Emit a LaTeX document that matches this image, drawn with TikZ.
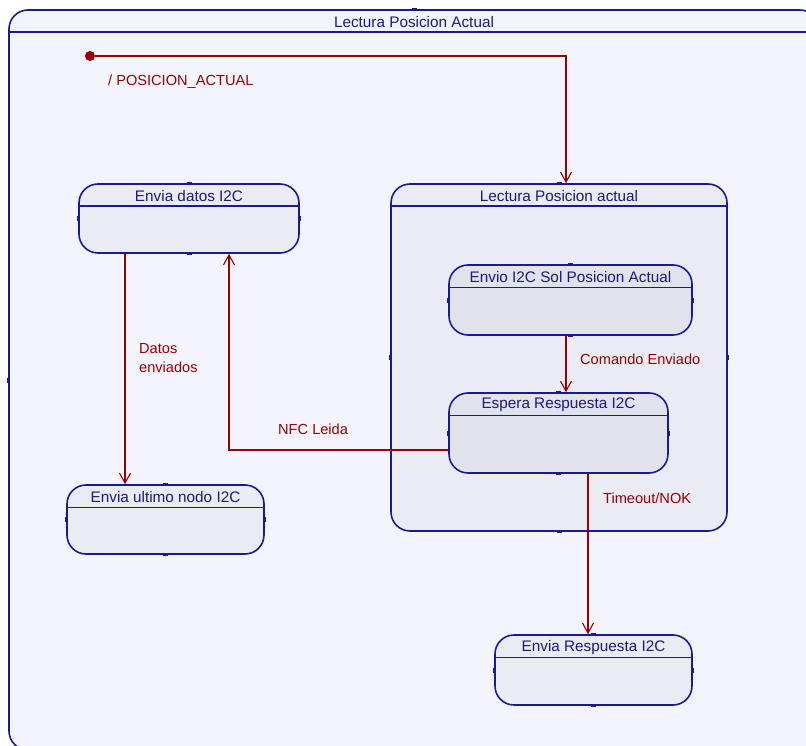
\documentclass[tikz,border=0pt]{standalone}
\usepackage{fontspec}
\setmainfont{Liberation Sans}
\usetikzlibrary{arrows.meta}

\definecolor{umlblue}{HTML}{1A1A96}
\definecolor{umltext}{HTML}{1A1A80}
\definecolor{umlred}{HTML}{990000}
\definecolor{bgfill}{HTML}{F4F4FD}
\definecolor{statefill}{HTML}{EBEBF4}
\definecolor{innerfill}{HTML}{E2E2EC}

\tikzset{
  statebox/.style={draw=umlblue, line width=1.6pt, rounded corners=19pt,
    inner sep=0pt},
  headline/.style={draw=umlblue, line width=1.4pt},
  statetitle/.style={text=umltext, font=\fontsize{15.3}{18}\selectfont, inner sep=0pt},
  trans/.style={draw=umlred, line width=1.1pt,
    -{Straight Barb[length=10pt,width=11pt,line width=1.1pt]}},
  translabel/.style={text=umlred, font=\fontsize{14.6}{19}\selectfont, inner sep=0pt,
    anchor=west, align=left},
  port/.style={draw=umlblue, line width=2pt}
}

% state with header compartment: name, centre x, centre y, width, height, fill, title
\newcommand{\umlstate}[7]{%
  \node[statebox, fill=#6, minimum width=#4pt, minimum height=#5pt] (#1) at (#2,#3) {};
  \draw[headline] ([yshift=-23pt]#1.north west) -- ([yshift=-23pt]#1.north east);
  \node[statetitle] (#1-title) at ([yshift=-13pt]#1.north) {#7};
  \draw[port] ([xshift=-2.5pt]#1.north) -- ([xshift=2.5pt]#1.north);
  \draw[port] ([xshift=-2.5pt]#1.south) -- ([xshift=2.5pt]#1.south);
  \draw[port] ([yshift=-2.5pt]#1.west) -- ([yshift=2.5pt]#1.west);
  \draw[port] ([yshift=-2.5pt]#1.east) -- ([yshift=2.5pt]#1.east);
}

\begin{document}
\begin{tikzpicture}[x=1pt,y=-1pt]
  \useasboundingbox (0,0) rectangle (806,746);
  \fill[white] (0,0) rectangle (806,746);
  \clip (0,0) rectangle (806,746);

  % enclosing state
  \umlstate{outer}{414}{380}{810}{740}{bgfill}{Lectura Posicion Actual}

  % composite state
  \umlstate{lpa}{559}{357.5}{336}{347}{statefill}{Lectura Posicion actual}

  % simple states
  \umlstate{datos}{189}{218.5}{220}{69}{statefill}{Envia datos I2C}
  \umlstate{ultimo}{165.5}{519.5}{197}{69}{statefill}{Envia ultimo nodo I2C}
  \umlstate{resp}{593.5}{670}{197}{70}{statefill}{Envia Respuesta I2C}
  \umlstate{envio}{570.5}{300}{243}{70}{innerfill}{Envio I2C Sol Posicion Actual}
  \umlstate{espera}{558.5}{433}{219}{80}{innerfill}{Espera Respuesta I2C}

  % initial pseudostate
  \node[circle, fill=umlred, inner sep=0pt, minimum size=10pt] (init) at (90,56) {};

  % column coordinates of the vertical transitions
  \coordinate (xa) at (125,0);
  \coordinate (xb) at (229,0);
  \coordinate (xc) at (566,0);
  \coordinate (xd) at (588,0);

  % transitions
  \draw[trans] (init) -| (lpa.north -| xc);
  \draw[trans] (datos.south -| xa) -- (ultimo.north -| xa);
  \draw[trans] (envio.south -| xc) -- (espera.north -| xc);
  \draw[trans] ([yshift=-17pt]espera.west) -| (datos.south -| xb);
  \draw[trans] (espera.south -| xd) -- (resp.north -| xd);

  % transition labels
  \node[translabel] (l-init) at (108,82) {/ POSICION\_ACTUAL};
  \node[translabel] (l-datos) at (139,358.5) {Datos\\enviados};
  \node[translabel] (l-cmd) at (580,359) {Comando Enviado};
  \node[translabel] (l-nfc) at (278,429) {NFC Leida};
  \node[translabel] (l-tout) at (603,498) {Timeout/NOK};
\end{tikzpicture}
\end{document}
